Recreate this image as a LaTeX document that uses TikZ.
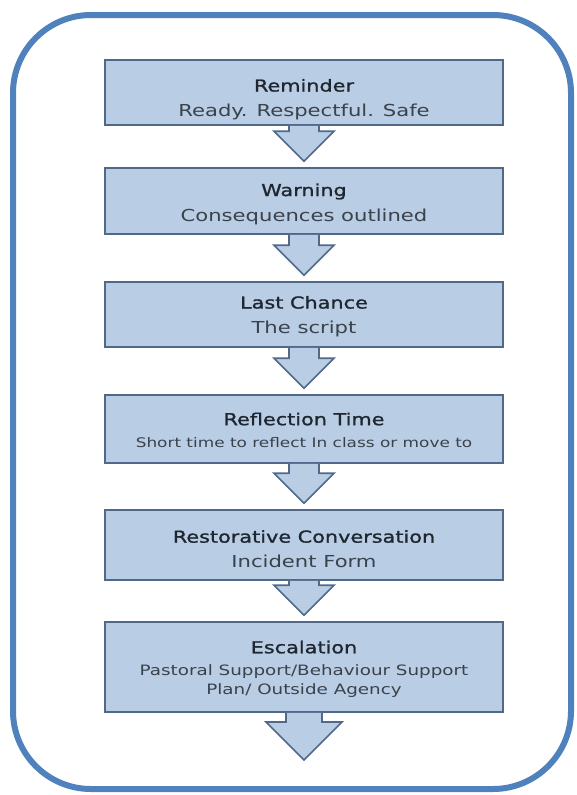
\documentclass[tikz,border=0pt]{standalone}
\usepackage{fontspec}
\setmainfont{DejaVu Sans}
\newfontfamily\subfont[FakeStretch=1.28]{DejaVu Sans}
\newfontfamily\ttlfont[FakeStretch=1.26,FakeBold=1.2]{DejaVu Sans}
\usetikzlibrary{calc,shadows}
\definecolor{boxfill}{HTML}{B9CDE5}
\definecolor{boxline}{HTML}{50698A}
\definecolor{frameblue}{HTML}{4F81BD}
\definecolor{titlecol}{HTML}{1E2630}
\definecolor{subcol}{HTML}{3A424B}
\tikzset{
  stage/.style={draw=boxline, line width=1.6pt, fill=boxfill, minimum width=398pt, inner sep=0pt,
    drop shadow={shadow xshift=0.8pt, shadow yshift=-1.4pt, opacity=0.45, fill=boxline}},
  stagetext/.style={align=center, inner sep=0pt, text=subcol, font=\subfont\fontsize{16.5}{25}\selectfont},
  blockarrow/.style={draw=boxline, line width=1.6pt, fill=boxfill, line join=miter}
}
\newcommand{\ttltext}[1]{{\color{titlecol}\ttlfont\fontsize{16.5}{25}\selectfont #1}}
\begin{document}
\begin{tikzpicture}[x=1pt,y=-1pt]
\useasboundingbox (0,0) rectangle (576,795);
\draw[frameblue, line width=6pt, rounded corners=78pt] (13,15) rectangle (571,789);

\node[stage, minimum height=65pt] (r1) at (304,92.5) {};
\node[stage, minimum height=66pt] (r2) at (304,201) {};
\node[stage, minimum height=65pt] (r3) at (304,314.5) {};
\node[stage, minimum height=68pt] (r4) at (304,429) {};
\node[stage, minimum height=70pt] (r5) at (304,545) {};
\node[stage, minimum height=90pt] (r6) at (304,667) {};
\coordinate (endtip) at (304,760);

\node[stagetext] (t1) at ($(r1.center)+(0,7)$) {\ttltext{Reminder}\\Ready. Respectful. Safe};
\node[stagetext] (t2) at ($(r2.center)+(0,3)$) {\ttltext{Warning}\\Consequences outlined};
\node[stagetext] (t3) at ($(r3.center)+(0,2)$) {\ttltext{Last Chance}\\The script};
\node[stagetext] (t4) at ($(r4.center)+(0,1)$) {\ttltext{Reflection Time}\\[-3pt]{\fontsize{13.2}{16}\selectfont Short time to reflect In class or move to}};
\node[stagetext] (t5) at ($(r5.center)+(0,4)$) {\ttltext{Restorative Conversation}\\Incident Form};
\node[stagetext] (t6) at ($(r6.center)+(0,2)$) {\ttltext{Escalation}\\[-3pt]{\fontsize{14.3}{19.5}\selectfont Pastoral Support/Behaviour Support}\\[-6pt]{\fontsize{14.3}{19.5}\selectfont Plan/ Outside Agency}};

% block arrows between stages
\foreach \a/\b in {r1/r2, r2/r3, r3/r4, r4/r5, r5/r6}{
  \draw[blockarrow]
    ($(\a.south)+(-15,0)$) -- ($(\b.north)+(-15,-36)$) -- ($(\b.north)+(-30,-36)$)
    -- ($(\b.north)+(0,-6)$) -- ($(\b.north)+(30,-36)$) -- ($(\b.north)+(15,-36)$)
    -- ($(\a.south)+(15,0)$);
}
\draw[blockarrow]
  ($(r6.south)+(-18,0)$) -- ($(endtip)+(-18,-38)$) -- ($(endtip)+(-38,-38)$)
  -- (endtip) -- ($(endtip)+(38,-38)$) -- ($(endtip)+(18,-38)$)
  -- ($(r6.south)+(18,0)$);
\end{tikzpicture}
\end{document}
